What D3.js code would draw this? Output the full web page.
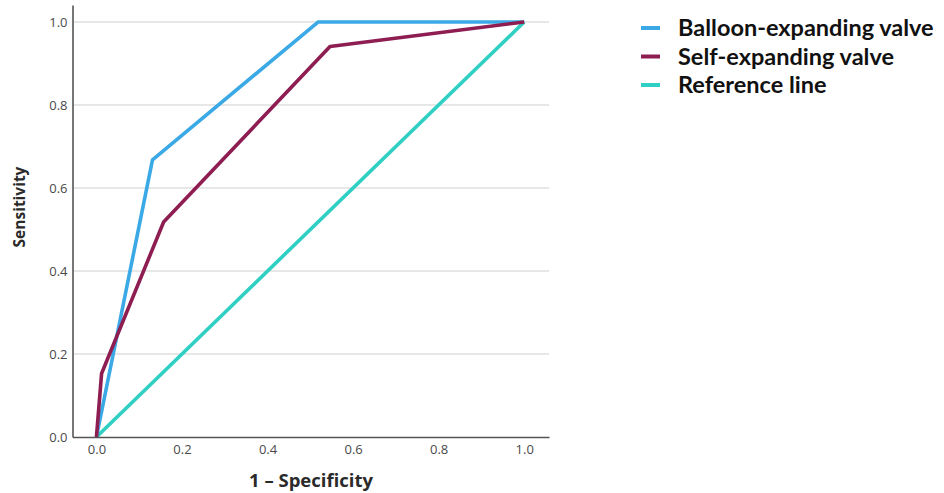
<!DOCTYPE html>
<html><head><meta charset="utf-8">
<script src="https://cdn.jsdelivr.net/npm/d3@7"></script>
<style>body{margin:0;background:#fff;} svg{display:block;}</style>
</head><body>
<script>
const seriesNames = ["Balloon-expanding valve", "Self-expanding valve", "Reference line"];
const seriesColors = ["#3ba9e6", "#8e1d52", "#30cfc3"];
const balloonFPR = [0, 0.131, 0.518, 1.0];
const balloonTPR = [0, 0.668, 1.0, 1.0];
const selfFPR = [0, 0.012, 0.157, 0.546, 1.0];
const selfTPR = [0, 0.153, 0.518, 0.941, 1.0];
const refFPR = [0, 1];
const refTPR = [0, 1];
const tickValues = [0, 0.2, 0.4, 0.6, 0.8, 1.0];

const W = 944, H = 493;
const svg = d3.select("body").append("svg").attr("width", W).attr("height", H);
const x = d3.scaleLinear().domain([-0.056, 1.058]).range([72.5, 549]);
const y = d3.scaleLinear().domain([0, 1.041]).range([437, 5]);

// gridlines
svg.append("g").selectAll("line").data(tickValues.filter(d => d > 0)).join("line")
  .attr("x1", 73).attr("x2", 549).attr("y1", d => y(d)).attr("y2", d => y(d))
  .attr("stroke", "#cfcfcf").attr("stroke-width", 1.2);

const series = [
  {xs: balloonFPR, ys: balloonTPR},
  {xs: selfFPR, ys: selfTPR},
  {xs: refFPR, ys: refTPR}
];
const line = d3.line().x(d => x(d[0])).y(d => y(d[1]));
[2, 0, 1].forEach(i => {
  const s = series[i];
  svg.append("path").datum(s.xs.map((v, k) => [v, s.ys[k]]))
    .attr("d", line).attr("fill", "none")
    .attr("stroke", seriesColors[i]).attr("stroke-width", 3.6)
    .attr("stroke-linejoin", "round");
});

// axes
const xAxis = svg.append("g").attr("transform", `translate(0,${y(0)})`)
  .call(d3.axisBottom(x).tickValues(tickValues).tickFormat(d3.format(".1f")).tickSize(0).tickPadding(8));
const yAxis = svg.append("g").attr("transform", `translate(${x.range()[0]},0)`)
  .call(d3.axisLeft(y).tickValues(tickValues).tickFormat(d3.format(".1f")).tickSize(0).tickPadding(5));
[xAxis, yAxis].forEach(a => {
  a.select(".domain").attr("stroke", "#555").attr("stroke-width", 1.6);
  a.selectAll("text").attr("font-family", "Open Sans, sans-serif").attr("font-size", 13).attr("fill", "#4a4a4a");
});

// axis titles
svg.append("text").attr("x", 311).attr("y", 487).attr("text-anchor", "middle")
  .attr("font-family", "Open Sans, sans-serif").attr("font-weight", "bold").attr("font-size", 18.5).attr("fill", "#2a2a2a")
  .text("1 \u2013 Specificity");
svg.append("text").attr("transform", "translate(25,207) rotate(-90)").attr("text-anchor", "middle")
  .attr("font-family", "Open Sans, sans-serif").attr("font-weight", "bold").attr("font-size", 15.5).attr("fill", "#2a2a2a")
  .text("Sensitivity");

// legend
const lg = svg.append("g");
seriesNames.forEach((n, i) => {
  const yy = 28 + i * 28.5;
  lg.append("line").attr("x1", 641).attr("x2", 660).attr("y1", yy).attr("y2", yy)
    .attr("stroke", seriesColors[i]).attr("stroke-width", 4);
  lg.append("text").attr("x", 678).attr("y", yy + 8).attr("font-family", "Lato, sans-serif")
    .attr("font-weight", "bold").attr("font-size", 23.5).attr("fill", "#111").text(n);
});
</script>
</body></html>
